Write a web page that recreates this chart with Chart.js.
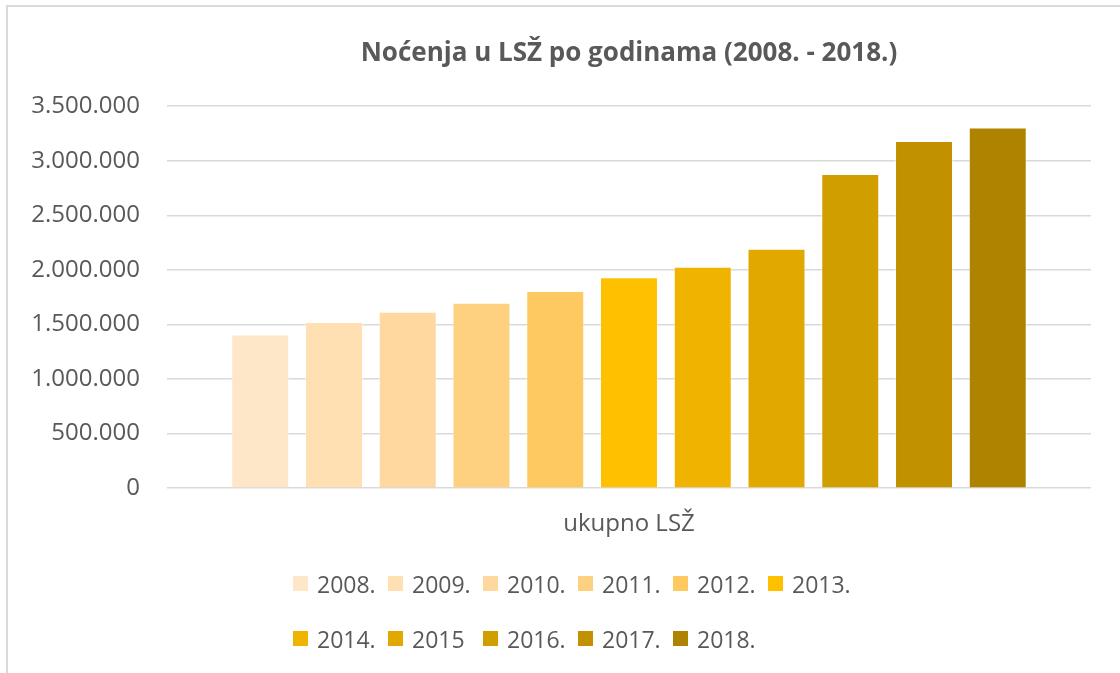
<!DOCTYPE html>
<html>
<head>
<meta charset="utf-8">
<title>Noćenja u LSŽ po godinama</title>
<script src="https://cdn.jsdelivr.net/npm/chart.js@4/dist/chart.umd.min.js"></script>
<style>
  html, body { margin: 0; padding: 0; background: #fff; overflow: hidden; }
  #wrap { position: relative; width: 1120px; height: 673px; }
  #frame { position: absolute; left: 6px; top: 5px; width: 1200px; height: 800px; border: 2px solid #d9d9d9; pointer-events: none; }
  #legend { position: absolute; left: 293px; top: 556px; width: 580px; display: flex; flex-wrap: wrap; font: 23px "Open Sans", sans-serif; color: #595959; }
  .item { width: 95px; height: 55px; display: flex; align-items: center; white-space: nowrap; }
  .box { width: 15px; height: 15px; margin-right: 9px; flex: none; }
</style>
</head>
<body>
<div id="wrap">
  <canvas id="chart" width="1120" height="673"></canvas>
  <div id="frame"></div>
  <div id="legend"></div>
</div>
<script>
// data
const categories = ['ukupno LSŽ'];
const years = ['2008.', '2009.', '2010.', '2011.', '2012.', '2013.', '2014.', '2015', '2016.', '2017.', '2018.'];
const nights = [1408000, 1522000, 1617000, 1699000, 1807000, 1932000, 2030000, 2193000, 2878000, 3181000, 3304000];
const colors = ['#fee6c8', '#fee0b3', '#fed89e', '#fed181', '#fec960', '#ffc000',
                '#f0b400', '#e1a900', '#d19e00', '#c19100', '#af8300'];
const yMax = 3500000;
const yStep = 500000;

const txt = '#595959';
const font = 'Open Sans';

// 3500000 -> 3.500.000
function fmt(v) {
  return String(v).replace(/\B(?=(\d{3})+(?!\d))/g, '.');
}

const datasets = years.map((y, i) => ({
  label: y,
  data: [nights[i]],
  backgroundColor: colors[i],
  borderColor: 'rgba(255,255,255,0.45)',
  borderWidth: 1,
  categoryPercentage: 0.878,
  barPercentage: 0.786
}));

const chart = new Chart(document.getElementById('chart'), {
  type: 'bar',
  data: { labels: categories, datasets: datasets },
  options: {
    responsive: false,
    animation: false,
    layout: { padding: { left: 0, right: 29, top: 0, bottom: 120 } },
    plugins: {
      legend: { display: false },
      tooltip: { enabled: false },
      title: {
        display: true,
        text: 'Noćenja u LSŽ po godinama (2008. - 2018.)',
        fullSize: false,
        color: txt,
        font: { family: font, size: 26, weight: 'bold' },
        padding: { top: 38, bottom: 37 }
      }
    },
    scales: {
      x: {
        grid: { display: false },
        border: { display: false },
        ticks: { color: txt, font: { family: font, size: 24 }, padding: 14 }
      },
      y: {
        min: 0,
        max: yMax,
        ticks: {
          stepSize: yStep,
          color: txt,
          font: { family: font, size: 24 },
          padding: 27,
          callback: v => fmt(v)
        },
        grid: { color: '#d9d9d9', lineWidth: 1.5, drawTicks: false },
        border: { display: false },
        afterFit: s => { s.width = 167; }
      }
    }
  }
});

// html legend built from the chart's own legend items
const legendEl = document.getElementById('legend');
chart.options.plugins.legend.labels.generateLabels(chart).forEach(item => {
  const el = document.createElement('div');
  el.className = 'item';
  const box = document.createElement('span');
  box.className = 'box';
  box.style.background = item.fillStyle;
  el.appendChild(box);
  el.appendChild(document.createTextNode(item.text));
  legendEl.appendChild(el);
});
</script>
</body>
</html>
